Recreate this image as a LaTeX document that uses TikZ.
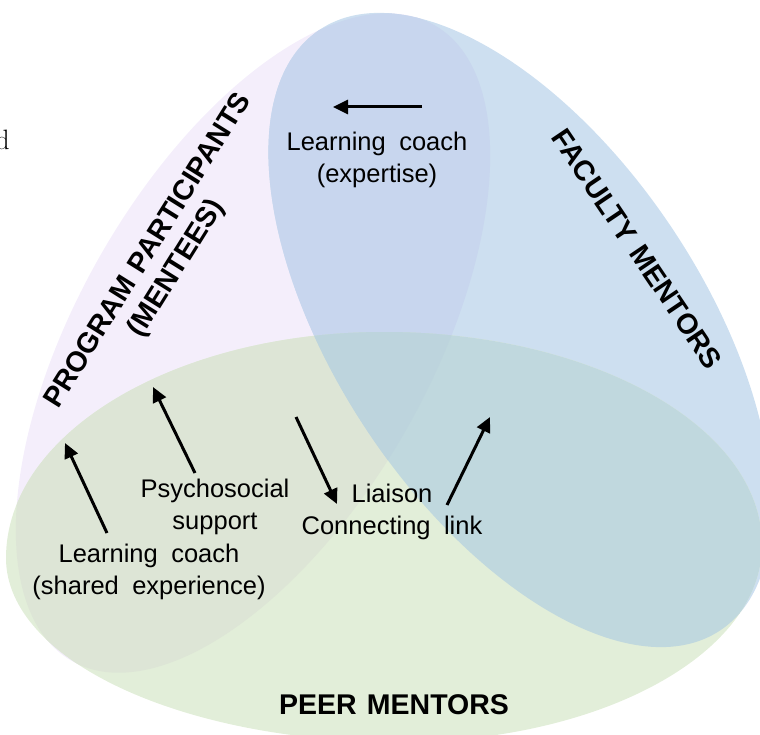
\documentclass[tikz,border=0pt]{standalone}
\usepackage{fontspec}
\newfontfamily\sansf[WordSpace=1.9]{Liberation Sans}
\newfontfamily\sansb[WordSpace=1.3]{Liberation Sans Bold}
\usetikzlibrary{arrows.meta}
\definecolor{cP}{HTML}{F4EEFB}
\definecolor{cB}{HTML}{CDDFF0}
\definecolor{cG}{HTML}{E2EED9}
\definecolor{cPB}{HTML}{C8D6EE}
\definecolor{cPG}{HTML}{DDE5D6}
\definecolor{cBG}{HTML}{C0D8DE}
\definecolor{cPBG}{HTML}{BDD4DD}
\tikzset{
  rotP/.style={rotate around={60.3:(253,343)}},
  rotB/.style={rotate around={-56.3:(520,330)}},
  lbl/.style={font=\sansf\fontsize{25.5}{32}\selectfont, align=center, inner sep=0pt, text=black},
  grp/.style={font=\sansb\fontsize{28.5}{33}\selectfont, align=center, inner sep=0pt, text=black},
  arr/.style={line width=3pt, -{Triangle[length=15pt,width=14pt]}},
}
\begin{document}
\begin{tikzpicture}[x=1pt,y=-1pt]
\useasboundingbox (0,0) rectangle (760,735);
% base shapes
\fill[cP, rotP] (253,343) ellipse [x radius=366, y radius=176];
\fill[cB, rotB] (520,330) ellipse [x radius=361, y radius=183];
\fill[cG] (6,558) .. controls (6,433) and (175,332) .. (384,332) .. controls (593,332) and (762,427) .. (762,545) .. controls (762,654) and (600,742) .. (400,742) .. controls (182,742) and (6,660) .. (6,558) -- cycle;
% overlaps
\begin{scope}
  \clip[rotP] (253,343) ellipse [x radius=366, y radius=176];
  \fill[cPB, rotB] (520,330) ellipse [x radius=361, y radius=183];
  \fill[cPG] (6,558) .. controls (6,433) and (175,332) .. (384,332) .. controls (593,332) and (762,427) .. (762,545) .. controls (762,654) and (600,742) .. (400,742) .. controls (182,742) and (6,660) .. (6,558) -- cycle;
\end{scope}
\begin{scope}
  \clip[rotB] (520,330) ellipse [x radius=361, y radius=183];
  \fill[cBG] (6,558) .. controls (6,433) and (175,332) .. (384,332) .. controls (593,332) and (762,427) .. (762,545) .. controls (762,654) and (600,742) .. (400,742) .. controls (182,742) and (6,660) .. (6,558) -- cycle;
\end{scope}
\begin{scope}
  \clip[rotP] (253,343) ellipse [x radius=366, y radius=176];
  \clip[rotB] (520,330) ellipse [x radius=361, y radius=183];
  \fill[cPBG] (6,558) .. controls (6,433) and (175,332) .. (384,332) .. controls (593,332) and (762,427) .. (762,545) .. controls (762,654) and (600,742) .. (400,742) .. controls (182,742) and (6,660) .. (6,558) -- cycle;
\end{scope}
% stray letter at the left edge
\node[anchor=base east, inner sep=0pt, font=\fontsize{28}{30}\selectfont] (dd) at (10,150) {d};
% labels
\node[grp, rotate=58] (pp) at (163,260) {PROGRAM PARTICIPANTS\\(MENTEES)};
\node[grp, rotate=-56] (fm) at (637,249) {FACULTY MENTORS};
\node[grp] (pm) at (394,705) {PEER MENTORS};
\node[lbl] (lcE) at (377,160) {Learning coach\\(expertise)};
\node[lbl] (ps) at (215,507) {Psychosocial\\support};
\node[lbl] (lcS) at (149,572) {Learning coach\\(shared experience)};
\node[lbl] (li) at (392,512) {Liaison\\Connecting link};
% arrows
\coordinate (a1s) at (107,533); \coordinate (a1e) at (65,443);
\coordinate (a2s) at (195,473); \coordinate (a2e) at (153,387);
\coordinate (a3s) at (296,417); \coordinate (a3e) at (337,504);
\coordinate (a4s) at (447,505); \coordinate (a4e) at (490,417);
\coordinate (a5s) at (422,107); \coordinate (a5e) at (333,107);
\draw[arr] (a1s) -- (a1e);
\draw[arr] (a2s) -- (a2e);
\draw[arr] (a3s) -- (a3e);
\draw[arr] (a4s) -- (a4e);
\draw[arr] (a5s) -- (a5e);
\end{tikzpicture}
\end{document}
